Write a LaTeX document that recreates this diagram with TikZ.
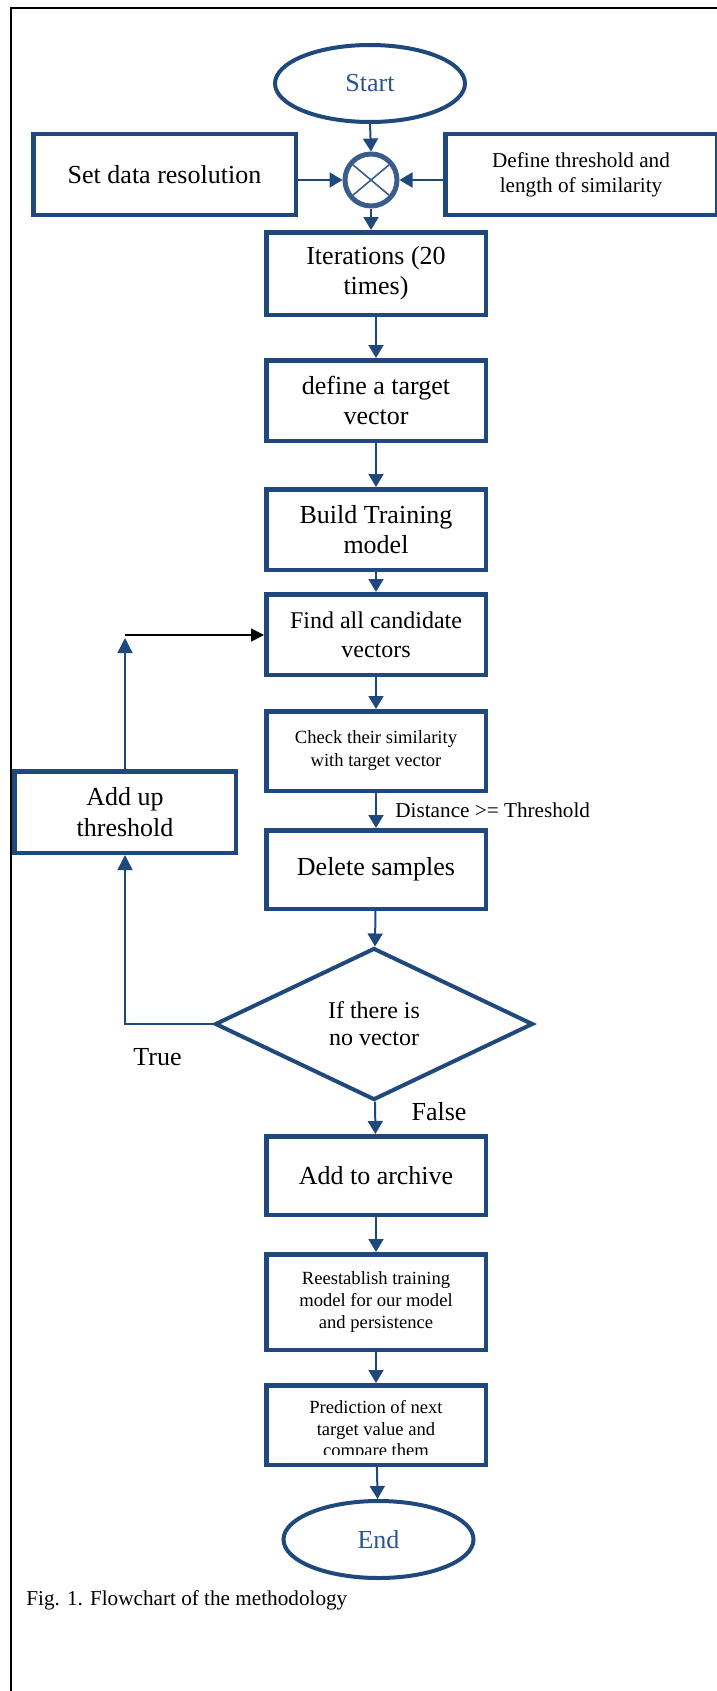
\documentclass[tikz,border=0pt]{standalone}
\usepackage{fontspec}
\setmainfont{Liberation Serif}
\usetikzlibrary{shapes.geometric,arrows.meta}
\definecolor{fc}{HTML}{1F497D}
\definecolor{cc}{HTML}{3A5E8C}
\definecolor{tc}{HTML}{2B5591}
\tikzset{
  box/.style={draw=fc, line width=2.25pt, rectangle, inner sep=0pt, align=center, font=\fontsize{13}{15}\selectfont},
  mainbox/.style={box, minimum width=109.75pt, minimum height=40.25pt},
  term/.style={draw=fc, line width=2pt, ellipse, minimum width=95pt, minimum height=38.5pt, inner sep=0pt, text=tc, font=\fontsize{13}{15}\selectfont},
  arr/.style={draw=fc, line width=1pt, -{Triangle[length=6.5pt,width=7.5pt]}},
  thinarr/.style={draw=fc, line width=0.7pt, -{Triangle[length=7.5pt,width=7.5pt]}},
  blkarr/.style={draw=black, line width=0.8pt, -{Triangle[length=6.5pt,width=6.5pt]}},
  lbl/.style={inner sep=0pt, font=\fontsize{13}{15}\selectfont},
  smalllbl/.style={inner sep=0pt, font=\fontsize{10.6}{12.5}\selectfont}
}
\begin{document}
\begin{tikzpicture}[x=0.5pt,y=-0.5pt]
\path[use as bounding box] (0,0) rectangle (717,1691);
\draw[black, line width=1pt] (11,1691) -- (11,8) -- (717,8);

% top
\node[term] (start) at (370,83.5) {Start};
\node[draw=cc, line width=2.5pt, circle, minimum size=26pt, inner sep=0pt] (mix) at (371,180) {};
\draw[cc, line width=0.8pt, shorten >=2.5pt, shorten <=2.5pt] (mix.40) -- (mix.220);
\draw[cc, line width=0.8pt, shorten >=2.5pt, shorten <=2.5pt] (mix.140) -- (mix.320);
\node[box, minimum width=131.25pt, minimum height=40.25pt] (setres) at (164.5,174.5) {Set data resolution};
\node[box, minimum width=135.75pt, minimum height=40.25pt, font=\fontsize{10.6}{12.5}\selectfont] (thr) at (581,174.5) {Define threshold and\\length of similarity};

% main column
\node[mainbox, minimum height=41.25pt] (iter) at (376,273.5) {Iterations (20\\times)};
\node[mainbox] (tgt) at (376,400.5) {define a target\\vector};
\node[mainbox] (build) at (376,529.5) {Build Training\\model};
\node[mainbox, font=\fontsize{12}{14.5}\selectfont] (find) at (376,634.5) {Find all candidate\\vectors};
\node[mainbox, minimum height=39.75pt, font=\fontsize{9.3}{11.5}\selectfont] (check) at (376,751) {Check their similarity\\with target vector};
\node[mainbox, minimum height=39.25pt] (del) at (376,869.5) {Delete samples};
\node[draw=fc, line width=2pt, diamond, aspect=2, minimum width=159pt, minimum height=76pt, inner sep=0pt, align=center, font=\fontsize{12}{13.5}\selectfont] (dec) at (374,1024) {If there is\\no vector};
\node[mainbox, minimum height=39.25pt] (arch) at (376,1175.5) {Add to archive};
\node[mainbox, minimum height=47.75pt, font=\fontsize{9.3}{11}\selectfont] (reest) at (376,1302) {Reestablish training\\model for our model\\and persistence};
\node[mainbox, minimum height=39.75pt] (pred) at (376,1425) {};
\begin{scope}
\clip (266,1388) rectangle (486,1454);
\node[inner sep=0pt, anchor=north, align=center, font=\fontsize{9.3}{10.75}\selectfont] (predtxt) at (376,1400) {Prediction of next\\target value and\\compare them};
\end{scope}
\node[term] (end) at (378.5,1539.5) {End};

% side box
\node[box, minimum width=110.75pt, minimum height=40.75pt, font=\fontsize{13}{15.5}\selectfont] (addup) at (125,812) {Add up\\threshold};

% connectors
\draw[arr] (start.south) -- (mix.north);
\draw[arr] (setres.east |- mix.west) -- (mix.west);
\draw[arr] (thr.west |- mix.east) -- (mix.east);
\draw[arr] (mix.south) -- (mix.south |- iter.north);
\draw[arr] (iter) -- (tgt);
\draw[arr] (tgt) -- (build);
\draw[arr] (build) -- (find);
\draw[arr] (find) -- (check);
\draw[arr] (check) -- (del);
\draw[arr] (del) -- (dec);
\draw[arr] (dec) -- (arch);
\draw[arr] (arch) -- (reest);
\draw[arr] (reest) -- (pred);
\draw[arr] (pred) -- (end);

% loop
\coordinate (lp) at (125,635);
\draw[thinarr] (dec.west) -- (addup.south |- dec.west) -- (addup.south);
\draw[thinarr, shorten >=1.5pt] (addup.north) -- (lp);
\draw[blkarr] (lp) -- (find.west |- lp);

% labels
\node[smalllbl, anchor=base west] (dist) at (395,817) {Distance >= Threshold};
\node[lbl, anchor=base] (truelbl) at (157.5,1065) {True};
\node[lbl, anchor=base] (falselbl) at (439,1120) {False};
\node[smalllbl, anchor=base west] (caption) at (26,1605) {Fig. 1. Flowchart of the methodology};
\end{tikzpicture}
\end{document}
